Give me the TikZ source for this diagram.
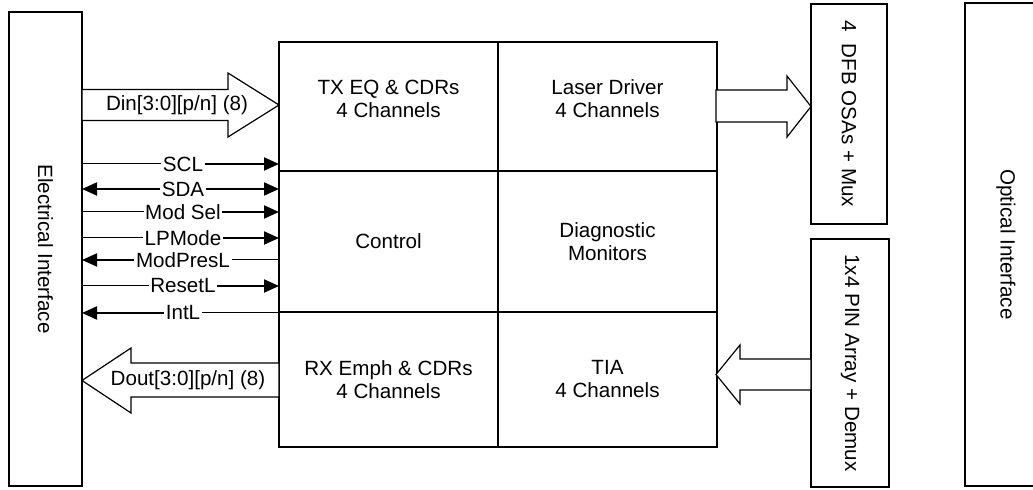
\documentclass[tikz,border=0pt]{standalone}
\usepackage{fontspec}
\setmainfont{Liberation Sans}
\usetikzlibrary{arrows.meta,positioning,calc}

\tikzset{
  box/.style={draw, line width=0.6pt, inner sep=0pt, outer sep=0pt, align=center},
  cell/.style={box, minimum width=109.5pt},
  fat/.style={draw, line width=0.6pt, fill=white},
  wire/.style={line width=0.5pt},
  wirehead/.style={line width=1pt, -{Triangle[length=7.5pt,width=6.5pt]}},
  sig/.style={fill=white, inner sep=0.6pt},
}

\begin{document}
\begin{tikzpicture}[x=0.5pt, y=-0.5pt, font=\fontsize{10.3}{11.5}\selectfont]
    \useasboundingbox (0,0) rectangle (1033,490);

    % interfaces
    \node[box, minimum width=36.5pt, minimum height=237pt, label={[rotate=-90]center:Electrical Interface}] (elec) at (45.5,249) {};
    \node[box, minimum width=38pt, minimum height=110pt, label={[rotate=-90]center:4\ \ DFB OSAs + Mux}] (dfb) at (849,114) {};
    \node[box, minimum width=39pt, minimum height=124pt, label={[rotate=-90]center:1x4 PIN Array + Demux}] (pin) at (850,363) {};
    \node[box, minimum width=41pt, minimum height=241.5pt, label={[rotate=-90]center:Optical Interface}] (optic) at (1006,244.5) {};

    % module core
    \node[cell, minimum height=64.5pt, text depth=8pt] (txeq) at (388.5,106.5) {TX EQ \& CDRs\\4 Channels};
    \node[cell, minimum height=64.5pt, text depth=8pt] (ldrv) [right=0pt of txeq] {Laser Driver\\4 Channels};
    \node[cell, minimum height=70.5pt] (ctrl) [below=0pt of txeq] {Control};
    \node[cell, minimum height=70.5pt] (diag) [below=0pt of ldrv] {Diagnostic\\Monitors};
    \node[cell, minimum height=67.5pt] (rxem) [below=0pt of ctrl] {RX Emph \& CDRs\\4 Channels};
    \node[cell, minimum height=67.5pt] (tia) [below=0pt of diag] {TIA\\4 Channels};

    % wide data paths
    \draw[fat] (82,89.5) -- (228,89.5) -- (228,73) -- (279,105) -- (228,137) -- (228,120.5) -- (82,120.5) -- cycle;
    \node (din) at (177,105) {Din[3:0][p/n] (8)};
    \draw[fat] (279,363) -- (131,363) -- (131,348) -- (82,380.5) -- (131,413) -- (131,397) -- (279,397) -- cycle;
    \node (dout) at (188,380) {Dout[3:0][p/n] (8)};
    \draw[fat] (716,90) -- (787,90) -- (787,76) -- (811,106.5) -- (787,137) -- (787,122) -- (716,122) -- cycle;
    \draw[fat] (811,359) -- (740,359) -- (740,345) -- (716,374.5) -- (740,404) -- (740,390) -- (811,390) -- cycle;

    % low speed signals
    \foreach \y/\txt/\lsty/\rsty [count=\i] in {164/SCL/wire/wirehead, 189/SDA/wirehead/wirehead,
        212/Mod Sel/wire/wirehead, 238/LPMode/wire/wirehead, 260/ModPresL/wirehead/wire,
        286/ResetL/wire/wirehead, 313/IntL/wirehead/wire} {
        \node[sig] (s\i) at (183,\y) {\txt};
        \draw[\lsty] (s\i.west) -- (s\i.west -| elec.east);
        \draw[\rsty] (s\i.east) -- (s\i.east -| ctrl.west);
    }
\end{tikzpicture}
\end{document}
